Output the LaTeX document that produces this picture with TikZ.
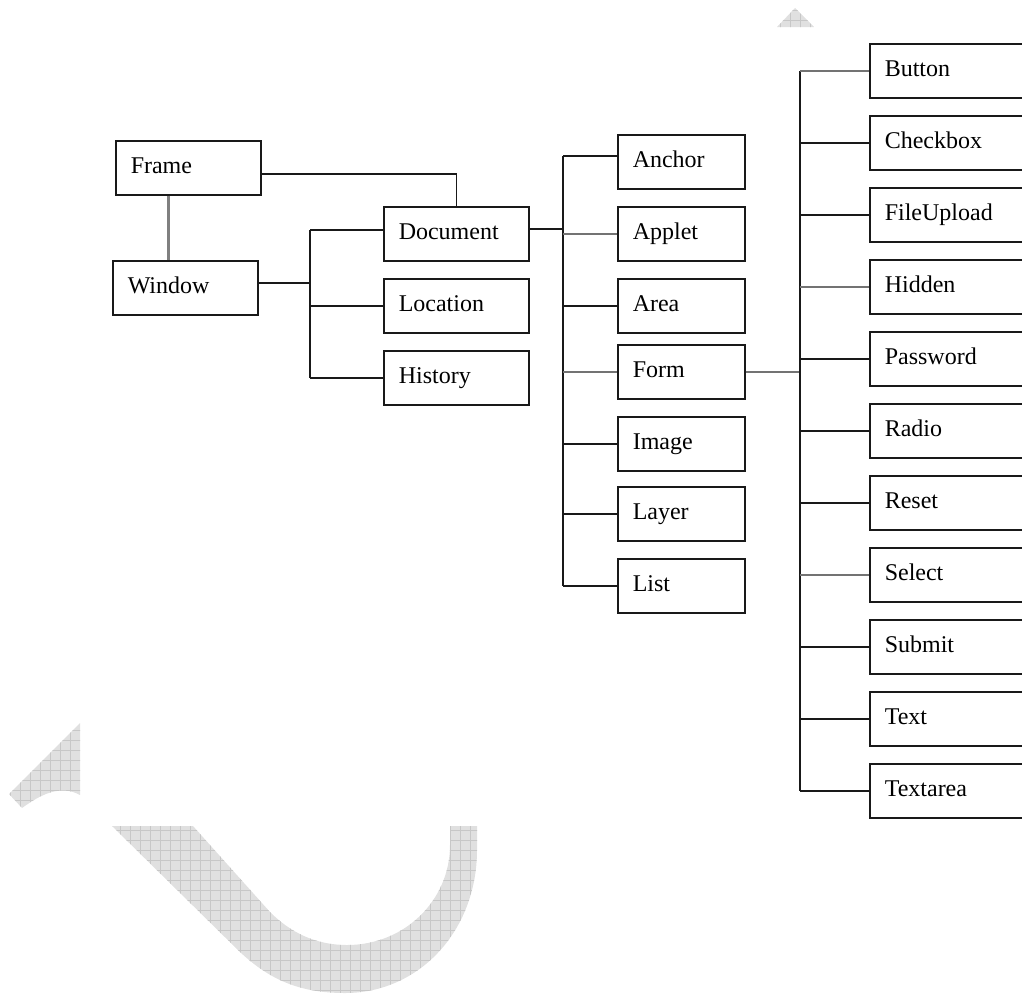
\documentclass[tikz,border=0pt]{standalone}
\usepackage{fontspec}
\setmainfont{Liberation Serif}
\begin{document}
\begin{tikzpicture}[x=1pt,y=-1pt,
  box/.style={draw=black!90, line width=1.5pt, anchor=north west, minimum height=54pt,
    inner xsep=15pt, align=left, font=\fontsize{24}{28}\selectfont,
    text height=16pt, text depth=5pt},
  boxA/.style={box, text width=115pt},
  boxB/.style={box, text width=97pt},
  boxC/.style={box, text width=170pt},
  link/.style={draw=black!90, line width=1.5pt},
  soft/.style={draw=black!55, line width=1.5pt}
]
\useasboundingbox (0,0) rectangle (1022,994);
\clip (0,0) rectangle (1022,994);

% watermark
\begin{scope}
  \clip (777,27) -- (795,8) -- (814,27) -- cycle
        (80,723) -- (9,794) -- (22,808) .. controls (40,795) and (60,784) .. (80,795) -- cycle
        (112,826) -- (240,952) .. controls (270,980) and (300,993) .. (345,993)
          .. controls (420,993) and (477,930) .. (477,850) -- (477,826) -- (450,826) -- (450,845)
          .. controls (450,900) and (405,945) .. (347,945) .. controls (315,945) and (290,932) .. (270,912)
          -- (193,826) -- cycle;
  \fill[black!12] (0,0) rectangle (1022,994);
  \foreach \g in {0,10,...,1020} {\draw[black!22, line width=0.6pt] (\g,0) -- (\g,994);}
  \foreach \g in {0,10,...,990} {\draw[black!22, line width=0.6pt] (0,\g) -- (1022,\g);}
\end{scope}

% column 0
\node[boxA] (frame) at (115,140) {Frame};
\node[boxA] (window) at (112,260) {Window};
% column 1
\node[boxA] (document) at (383,206) {Document};
\node[boxA] (location) at (383,278) {Location};
\node[boxA] (history) at (383,350) {History};
% column 2
\node[boxB] (anchor) at (617,134) {Anchor};
\node[boxB] (applet) at (617,206) {Applet};
\node[boxB] (area) at (617,278) {Area};
\node[boxB] (form) at (617,344) {Form};
\node[boxB] (image) at (617,416) {Image};
\node[boxB] (layer) at (617,486) {Layer};
\node[boxB] (list) at (617,558) {List};
% column 3
\node[boxC] (button) at (869,43) {Button};
\node[boxC] (checkbox) at (869,115) {Checkbox};
\node[boxC] (fileupload) at (869,187) {FileUpload};
\node[boxC] (hidden) at (869,259) {Hidden};
\node[boxC] (password) at (869,331) {Password};
\node[boxC] (radio) at (869,403) {Radio};
\node[boxC] (reset) at (869,475) {Reset};
\node[boxC] (select) at (869,547) {Select};
\node[boxC] (submit) at (869,619) {Submit};
\node[boxC] (text) at (869,691) {Text};
\node[boxC] (textarea) at (869,763) {Textarea};

% bus coordinates
\coordinate (busA) at (310,0);
\coordinate (busB) at (563,0);
\coordinate (busC) at (800,0);

% Frame connections
\draw[draw=black!50, line width=3pt] ([xshift=-20pt]frame.south) -- ([xshift=-20pt]frame.south |- window.north);
\draw[link] ([yshift=-6pt]frame.east) -| (document.north);

% Window bus
\draw[link] ([yshift=5pt]window.east) -- ([yshift=5pt]window.east -| busA);
\draw[link] ([yshift=4pt]busA |- document.west) -- (busA |- history.west);
\draw[link] ([yshift=4pt]busA |- document.west) -- ([yshift=4pt]document.west);
\draw[link] (busA |- location.west) -- (location.west);
\draw[link] (busA |- history.west) -- (history.west);

% Document bus
\draw[link] ([yshift=5pt]document.east) -- ([yshift=5pt]document.east -| busB);
\draw[link] ([yshift=6pt]busB |- anchor.west) -- (busB |- list.west);
\draw[link] ([yshift=6pt]busB |- anchor.west) -- ([yshift=6pt]anchor.west);
\foreach \n in {area,image,layer,list} {\draw[link] (busB |- \n.west) -- (\n.west);}
\foreach \n in {applet,form} {\draw[soft] (busB |- \n.west) -- (\n.west);}

% Form bus
\draw[soft] (form.east) -- (form.east -| busC);
\draw[link] (busC |- button.west) -- (busC |- textarea.west);
\foreach \n in {checkbox,fileupload,password,radio,reset,submit,text,textarea} {\draw[link] (busC |- \n.west) -- (\n.west);}
\foreach \n in {button,hidden,select} {\draw[soft] (busC |- \n.west) -- (\n.west);}
\end{tikzpicture}
\end{document}
